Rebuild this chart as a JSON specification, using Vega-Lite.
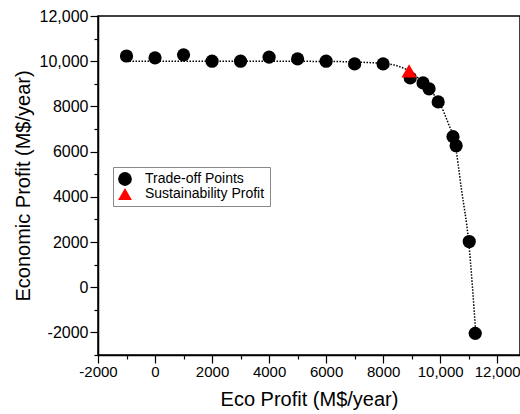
{
  "$schema": "https://vega.github.io/schema/vega-lite/v6.json",
  "width": 422,
  "height": 339,
  "autosize": {"type": "none"},
  "padding": {"left": 98, "top": 16, "right": 0, "bottom": 59},
  "background": "white",
  "config": {
    "font": "Liberation Sans",
    "view": {"stroke": "black", "strokeWidth": 1.5},
    "axis": {
      "domainColor": "black",
      "domainWidth": 1.5,
      "tickColor": "black",
      "tickWidth": 1.2,
      "tickSize": 8,
      "labelColor": "black",
      "titleColor": "black",
      "labelFont": "Liberation Sans",
      "titleFont": "Liberation Sans",
      "labelFontSize": 16,
      "titleFontSize": 20,
      "titleFontWeight": "normal",
      "grid": false
    }
  },
  "datasets": {
    "curve": [
      {"x": -1000, "y": 10000},
      {"x": 2000, "y": 10000},
      {"x": 6000, "y": 9990},
      {"x": 8000, "y": 9900},
      {"x": 8600, "y": 9750},
      {"x": 9000, "y": 9500},
      {"x": 9400, "y": 9050},
      {"x": 9700, "y": 8650},
      {"x": 10000, "y": 8100},
      {"x": 10300, "y": 7200},
      {"x": 10500, "y": 6500},
      {"x": 10750, "y": 4300},
      {"x": 11000, "y": 2000},
      {"x": 11250, "y": -2050}
    ],
    "pts": [
      {"x": -1000, "y": 10230, "series": "Trade-off Points"},
      {"x": 0, "y": 10150, "series": "Trade-off Points"},
      {"x": 1000, "y": 10280, "series": "Trade-off Points"},
      {"x": 2000, "y": 10000, "series": "Trade-off Points"},
      {"x": 3000, "y": 10000, "series": "Trade-off Points"},
      {"x": 4000, "y": 10180, "series": "Trade-off Points"},
      {"x": 5000, "y": 10100, "series": "Trade-off Points"},
      {"x": 6000, "y": 10000, "series": "Trade-off Points"},
      {"x": 7000, "y": 9880, "series": "Trade-off Points"},
      {"x": 8000, "y": 9880, "series": "Trade-off Points"},
      {"x": 8950, "y": 9260, "series": "Trade-off Points"},
      {"x": 9400, "y": 9040, "series": "Trade-off Points"},
      {"x": 9610, "y": 8780, "series": "Trade-off Points"},
      {"x": 9930, "y": 8200, "series": "Trade-off Points"},
      {"x": 10450, "y": 6660, "series": "Trade-off Points"},
      {"x": 10560, "y": 6260, "series": "Trade-off Points"},
      {"x": 11020, "y": 2020, "series": "Trade-off Points"},
      {"x": 11230, "y": -2040, "series": "Trade-off Points"}
    ],
    "tri": [
      {"x": 8910, "y": 9570, "series": "Sustainability Profit"}
    ]
  },
  "encoding": {
    "x": {
      "field": "x", "type": "quantitative",
      "scale": {"domain": [-2000, 12800], "nice": false, "zero": false},
      "axis": {
        "title": "Eco Profit (M$/year)",
        "values": [-2000, -1000, 0, 1000, 2000, 3000, 4000, 5000, 6000, 7000, 8000, 9000, 10000, 11000, 12000],
        "labelExpr": "abs(datum.value) % 2000 > 0 ? '' : (datum.value >= 10000 ? format(datum.value, ',') : '' + datum.value)",
        "tickDash": {"condition": {"test": "abs(datum.value) % 2000 > 0", "value": [4, 30]}, "value": [8, 0]},
        "labelFontSize": 15,
        "labelPadding": 1,
        "titlePadding": 10,
        "labelFlush": false,
        "labelOverlap": false
      }
    },
    "y": {
      "field": "y", "type": "quantitative",
      "scale": {"domain": [-3000, 12000], "nice": false, "zero": false},
      "axis": {
        "title": "Economic Profit (M$/year)",
        "values": [-3000, -2000, -1000, 0, 1000, 2000, 3000, 4000, 5000, 6000, 7000, 8000, 9000, 10000, 11000, 12000],
        "labelExpr": "abs(datum.value) % 2000 > 0 ? '' : (datum.value >= 10000 ? format(datum.value, ',') : '' + datum.value)",
        "tickDash": {"condition": {"test": "abs(datum.value) % 2000 > 0", "value": [4, 30]}, "value": [8, 0]},
        "labelPadding": 2,
        "titlePadding": 6,
        "labelFlush": false,
        "labelOverlap": false
      }
    }
  },
  "layer": [
    {
      "data": {"name": "curve"},
      "mark": {"type": "line", "color": "black", "strokeWidth": 1.5, "strokeDash": [1.5, 1.5], "interpolate": "monotone"}
    },
    {
      "data": {"name": "pts"},
      "mark": {"type": "point", "filled": true, "opacity": 1, "size": 175},
      "encoding": {
        "shape": {
          "field": "series", "type": "nominal",
          "scale": {"domain": ["Trade-off Points", "Sustainability Profit"], "range": ["circle", "triangle-up"]},
          "legend": {
            "title": null,
            "orient": "none",
            "legendX": 15,
            "legendY": 151,
            "strokeColor": "#888888",
            "fillColor": "white",
            "padding": 5,
            "labelFontSize": 14,
            "labelFont": "Liberation Sans",
            "labelColor": "black",
            "symbolSize": 190,
            "symbolStrokeWidth": 0,
            "symbolOpacity": 1,
            "rowPadding": 1,
            "labelOffset": 13
          }
        },
        "color": {
          "field": "series", "type": "nominal",
          "scale": {"domain": ["Trade-off Points", "Sustainability Profit"], "range": ["black", "#ff0000"]},
          "legend": {
            "title": null,
            "orient": "none",
            "legendX": 15,
            "legendY": 151,
            "strokeColor": "#888888",
            "fillColor": "white",
            "padding": 5,
            "labelFontSize": 14,
            "labelFont": "Liberation Sans",
            "labelColor": "black",
            "symbolSize": 190,
            "symbolStrokeWidth": 0,
            "symbolOpacity": 1,
            "rowPadding": 1,
            "labelOffset": 13
          }
        }
      }
    },
    {
      "data": {"name": "tri"},
      "mark": {"type": "point", "filled": true, "opacity": 1, "size": 230},
      "encoding": {
        "shape": {"field": "series", "type": "nominal"},
        "color": {"field": "series", "type": "nominal"}
      }
    }
  ]
}
